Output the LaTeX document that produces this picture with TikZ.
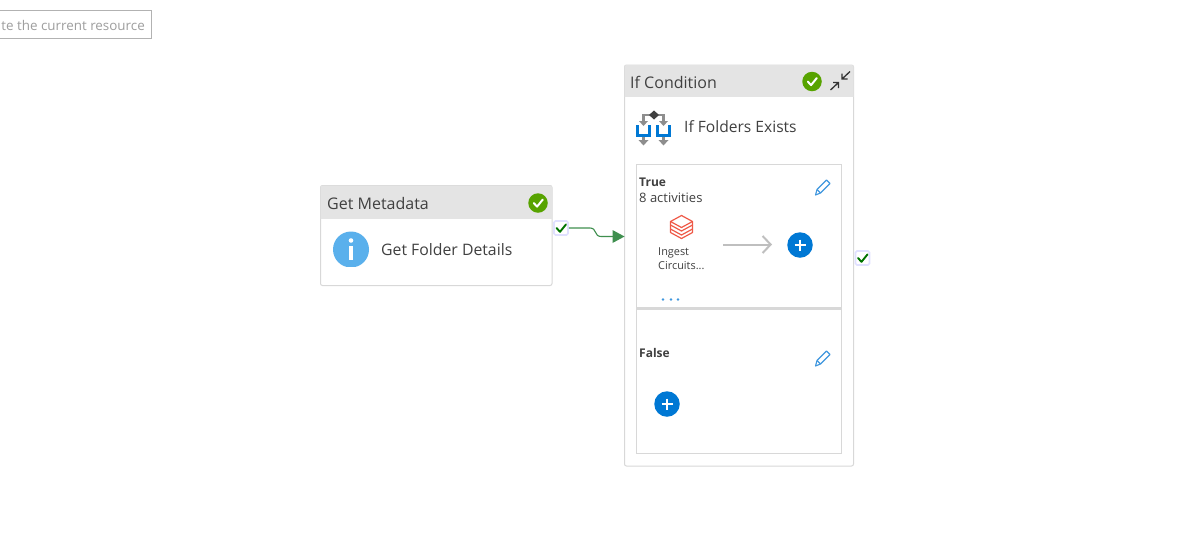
\documentclass[tikz,border=0pt]{standalone}
\usepackage{fontspec}
\setmainfont{Open Sans}
\usetikzlibrary{arrows.meta,calc}
\definecolor{hdr}{HTML}{E4E4E4}
\definecolor{edge}{HTML}{D8D8D8}
\definecolor{txt}{HTML}{404040}
\definecolor{okgreen}{HTML}{57A300}
\definecolor{linkgreen}{HTML}{3F8F4F}
\definecolor{azure}{HTML}{0078D4}
\definecolor{pen}{HTML}{3F97DE}
\definecolor{infoblue}{HTML}{5AB0EC}
\definecolor{dbred}{HTML}{EF5A48}
\definecolor{ifgrey}{HTML}{8E8E8E}
\tikzset{
  x=1pt,y=-1pt,
  card/.style={draw=edge,fill=white,line width=1pt,rounded corners=2pt},
  headtxt/.style={anchor=west,inner sep=0pt,font=\fontsize{16}{18}\selectfont,text=txt},
  nametxt/.style={anchor=west,inner sep=0pt,font=\fontsize{15.8}{18}\selectfont,text=txt},
  smalltxt/.style={anchor=west,inner sep=0pt,font=\fontsize{13}{15}\selectfont,text=txt},
  boldtxt/.style={anchor=west,inner sep=0pt,font=\fontsize{12}{15}\selectfont\bfseries,text=txt},
  tinytxt/.style={anchor=north west,align=left,inner sep=0pt,font=\fontsize{10.9}{14}\selectfont,text=txt},
  okdot/.style={circle,fill=okgreen,minimum size=19.5pt,inner sep=0pt},
  plusdot/.style={circle,fill=azure,minimum size=25.5pt,inner sep=0pt},
  checkbox/.style={draw=blue!12!white,fill=white,line width=1.6pt,rounded corners=1.5pt,minimum size=14pt,inner sep=0pt},
  panel/.style={draw=edge,fill=white,line width=1.3pt},
}
\newcommand{\tick}[4]{\draw[#3,line width=#4,line cap=round,line join=round] ($(#1)+(-#2*0.45,0)$) -- ($(#1)+(-#2*0.1,#2*0.38)$) -- ($(#1)+(#2*0.5,-#2*0.36)$);}
\newcommand{\whiteplus}[1]{\draw[white,line width=2.2pt] ($(#1)+(-5.5,0)$) -- ($(#1)+(5.5,0)$) ($(#1)+(0,-5.5)$) -- ($(#1)+(0,5.5)$);}
\newcommand{\pencil}[2]{\begin{scope}[shift={(#1,#2)},pen,line width=1.1pt,line join=round]
  \draw (-7.5,8) -- (-6,2.5) -- (3.5,-7) -- (7,-3.5) -- (-2.5,6) -- cycle;
  \draw (-6,2.5) -- (-2.5,6);
\end{scope}}
\begin{document}
\begin{tikzpicture}
\useasboundingbox (0,0) rectangle (1193,547);
\fill[white] (0,0) rectangle (1193,547);
% tooltip
\draw[draw=black!30,fill=white,line width=1pt] (-3,10.5) rectangle (151.5,38.5);
\node[anchor=east,inner sep=0pt,font=\fontsize{13.4}{15}\selectfont,text=black!38] (tip) at (145,25.5) {te the current resource};
% Get Metadata card
\draw[card] (320.5,185.5) rectangle (552,285.5);
\begin{scope}
\clip[rounded corners=2pt] (320.5,185.5) rectangle (552,285.5);
\fill[hdr] (320,185) rectangle (552.5,218.5);
\end{scope}
\node[headtxt] (gmh) at (327,203) {Get Metadata};
\node[okdot] (gmok) at (538,203) {};
\tick{gmok}{9.5}{white}{2pt}
\begin{scope}
\clip (320,231) rectangle (372,266.5);
\fill[infoblue] (351,249.5) circle (18);
\end{scope}
\fill[white] (351,240.5) circle (2.3);
\fill[white] (349,245.5) rectangle (353,260);
\node[nametxt] (gmn) at (381,249.5) {Get Folder Details};
% If condition card
\draw[card] (624.5,65) rectangle (853.5,466);
\begin{scope}
\clip[rounded corners=2pt] (624.5,65) rectangle (853.5,466);
\fill[hdr] (624,64) rectangle (854,97);
\end{scope}
\node[headtxt] (ifh) at (630,82) {If Condition};
\node[okdot] (ifok) at (812,81.5) {};
\tick{ifok}{9.5}{white}{2pt}
\draw[black!80,line width=1.3pt] (842,79) -- (850,71.5) (842,73.5) -- (842,79) -- (847.5,79);
\draw[black!80,line width=1.3pt] (830.5,90) -- (838.5,82.5) (833,82.5) -- (838.5,82.5) -- (838.5,88);
% if icon
\begin{scope}[ifgrey,line width=2.3pt]
  \draw (654,115) -- (643.5,115) -- (643.5,122);
  \draw (654,115) -- (663.5,115) -- (663.5,122);
  \draw (643.5,136) -- (643.5,141);
  \draw (663.5,136) -- (663.5,141);
\end{scope}
\fill[ifgrey] (639,121) -- (648,121) -- (643.5,126) -- cycle;
\fill[ifgrey] (659,121) -- (668,121) -- (663.5,126) -- cycle;
\fill[ifgrey] (638.5,140) -- (648.5,140) -- (643.5,145.5) -- cycle;
\fill[ifgrey] (658.5,140) -- (668.5,140) -- (663.5,145.5) -- cycle;
\fill[black!75] (654,110.5) -- (659,115) -- (654,119.5) -- (649,115) -- cycle;
\draw[azure,line width=2.6pt] (637.5,125) -- (637.5,135.5) -- (649.5,135.5) -- (649.5,125);
\draw[azure,line width=2.6pt] (657.5,125) -- (657.5,135.5) -- (669.5,135.5) -- (669.5,125);
\node[nametxt,font=\fontsize{15.6}{18}\selectfont] (ifn) at (684,126.5) {If Folders Exists};
% True panel
\draw[panel] (636.5,164.5) rectangle (841.5,308);
\node[boldtxt] (tt) at (639,182.5) {True};
\node[smalltxt] (ta) at (639,197.5) {8 activities};
\pencil{823}{187}
% databricks icon
\begin{scope}[dbred,line width=1.2pt,line join=round]
  \draw (681.5,215.5) -- (692.5,221.5) -- (681.5,227.5) -- (670.5,221.5) -- cycle;
  \draw (670.5,221.5) -- (670.5,225) -- (681.5,231) -- (692.5,225) -- (692.5,221.5);
  \draw (670.5,225) -- (670.5,229) -- (681.5,235) -- (692.5,229) -- (692.5,225);
  \draw (670.5,229) -- (670.5,232.5) -- (681.5,238.5) -- (692.5,232.5) -- (692.5,229);
\end{scope}
\node[tinytxt] (ing) at (658,247.5) {Ingest\\Circuits...};
\node[plusdot] (tplus) at (800,245) {};
\whiteplus{tplus}
\coordinate (tfrom) at (723,244.5);
\coordinate (tto) at (772,244.5);
\draw[black!25,line width=2pt,-{Straight Barb[length=8pt,width=17pt,line width=2pt]}] (tfrom) -- (tto);
\foreach \px in {663,671,678} \fill[pen] (\px,299.5) circle (1.4);
% False panel
\draw[panel] (636.5,309.5) rectangle (841.5,453.5);
\node[boldtxt] (ft) at (639,352.5) {False};
\pencil{823}{358}
\node[plusdot] (fplus) at (667,404) {};
\whiteplus{fplus}
% check boxes and connector
\node[checkbox] (c1) at (561,228) {};
\tick{c1}{10}{green!45!black}{1.9pt}
\node[checkbox] (c2) at (862.5,258) {};
\tick{c2}{10}{green!45!black}{1.9pt}
\coordinate (arr) at (613,236.5);
\draw[linkgreen,line width=1.1pt] (c1.east) -- (590,228) .. controls (597,228) and (594,236.5) .. (601,236.5) -- (arr);
\fill[linkgreen] (612.5,230) -- (624.5,236.5) -- (612.5,243) -- cycle;
\end{tikzpicture}
\end{document}
